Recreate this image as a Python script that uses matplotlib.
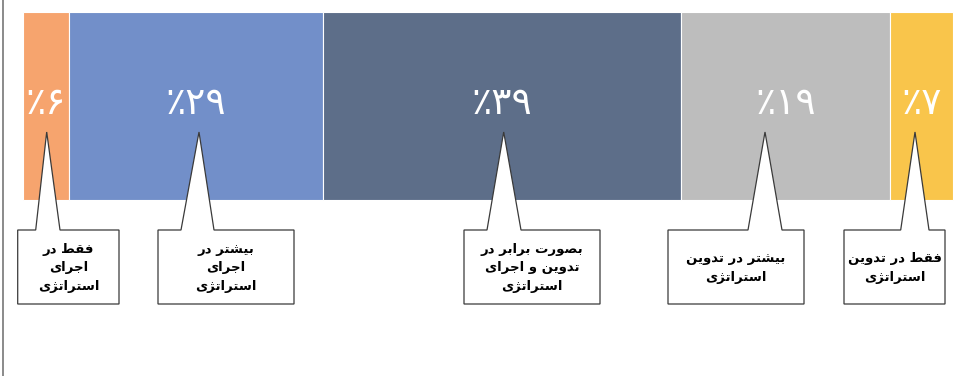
import matplotlib
matplotlib.use("Agg")
import matplotlib.pyplot as plt
from matplotlib.patches import Polygon
import numpy as np

# shares as drawn in the bar and the printed percentages
shares = [4.9, 27.3, 38.5, 22.5, 6.8]
percents = [6, 29, 39, 19, 7]
colors = ["#F6A46E", "#728FC9", "#5D6E89", "#BDBDBD", "#F9C54B"]
notes = [
    ["فقط در", "اجرای", "استراتژی"],
    ["بیشتر در", "اجرای", "استراتژی"],
    ["بصورت برابر در", "تدوین و اجرای", "استراتژی"],
    ["بیشتر در تدوین", "استراتژی"],
    ["فقط در تدوین", "استراتژی"],
]

# -=-=-=-= simple persian shaping (matplotlib does no bidi / joining) -=-=-=-=
FORMS = {
    "ا": ("\uFE8D", "\uFE8E", None, None),
    "ب": ("\uFE8F", "\uFE90", "\uFE91", "\uFE92"),
    "ت": ("\uFE95", "\uFE96", "\uFE97", "\uFE98"),
    "ج": ("\uFE9D", "\uFE9E", "\uFE9F", "\uFEA0"),
    "د": ("\uFEA9", "\uFEAA", None, None),
    "ر": ("\uFEAD", "\uFEAE", None, None),
    "س": ("\uFEB1", "\uFEB2", "\uFEB3", "\uFEB4"),
    "ش": ("\uFEB5", "\uFEB6", "\uFEB7", "\uFEB8"),
    "ص": ("\uFEB9", "\uFEBA", "\uFEBB", "\uFEBC"),
    "ط": ("\uFEC1", "\uFEC2", "\uFEC3", "\uFEC4"),
    "ف": ("\uFED1", "\uFED2", "\uFED3", "\uFED4"),
    "ق": ("\uFED5", "\uFED6", "\uFED7", "\uFED8"),
    "ن": ("\uFEE5", "\uFEE6", "\uFEE7", "\uFEE8"),
    "و": ("\uFEED", "\uFEEE", None, None),
    "ژ": ("\uFB8A", "\uFB8B", None, None),
    "ی": ("\uFBFC", "\uFBFD", "\uFBFE", "\uFBFF"),
}


def dual(ch):
    return ch in FORMS and FORMS[ch][2] is not None


def shape(line):
    out = []
    for i, ch in enumerate(line):
        if ch not in FORMS:
            out.append(ch)
            continue
        prev = line[i - 1] if i > 0 else " "
        nxt = line[i + 1] if i + 1 < len(line) else " "
        join_prev = dual(prev)
        join_next = dual(ch) and nxt in FORMS
        iso, fin, ini, med = FORMS[ch]
        if join_prev and join_next:
            out.append(med)
        elif join_prev:
            out.append(fin)
        elif join_next:
            out.append(ini)
        else:
            out.append(iso)
    return "".join(out)[::-1]


def fa_digits(n):
    return str(n).translate(str.maketrans("0123456789", "۰۱۲۳۴۵۶۷۸۹"))


W, H = 969, 376
fig = plt.figure(figsize=(W / 100, H / 100), dpi=100)
ax = fig.add_axes([0, 0, 1, 1])
# x in percent of the bar, y in pixels from the top
x0, bar_w = 23.3, 930.0
ax.set_xlim(-x0 / bar_w * 100, (W - x0) / bar_w * 100)
ax.set_ylim(H, 0)
ax.axis("off")

lefts = np.concatenate([[0], np.cumsum(shares)[:-1]])
ax.barh(106, shares, left=lefts, height=188, color=colors,
        edgecolor="white", linewidth=0.8)

for left, w, p in zip(lefts, shares, percents):
    ax.text(left + w / 2, 104, "٪" + fa_digits(p), color="white",
            fontsize=27, ha="center", va="center", family="DejaVu Sans")

# callout boxes (pixel layout): box left, box right, tip x, base left, base right
boxes = [
    (17.7, 119, 46.7, 35.7, 60),
    (158, 294, 199, 181, 214),
    (464, 600, 503.7, 487, 521),
    (668, 804, 765, 748, 782),
    (844, 945, 915, 900.7, 929),
]
top, bottom, tip_y = 230, 304, 132


def px(x):
    return (x - x0) / bar_w * 100


for (bl, br, tx, al, ar), lines in zip(boxes, notes):
    pts = [(bl, top), (al, top), (tx, tip_y), (ar, top), (br, top),
           (br, bottom), (bl, bottom)]
    ax.add_patch(Polygon([(px(x), y) for x, y in pts], closed=True,
                         facecolor="white", edgecolor="#3a3a3a", linewidth=0.9))
    ax.text(px((bl + br) / 2), (top + bottom) / 2 + 1,
            "\n".join(shape(l) for l in lines), ha="center", va="center",
            fontsize=9.5, fontweight="bold", linespacing=1.55,
            family="DejaVu Sans", color="black")

# thin frame line on the left edge
fig.add_artist(plt.Line2D([2.5 / W, 2.5 / W], [0, 1], color="#777777", linewidth=1.2))

plt.savefig("out.png", dpi=100)
